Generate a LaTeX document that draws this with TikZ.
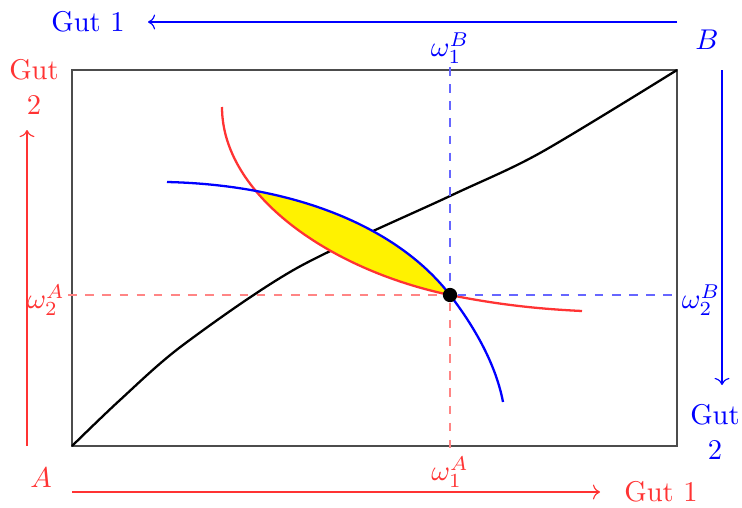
\documentclass[tikz,border=0pt]{standalone}
\usepackage{amsmath,amssymb}
\usepackage{xcolor}
\usepackage{tikz}
\usetikzlibrary{arrows.meta,calc,positioning}

\colorlet{rotA}{red!80}
\colorlet{blauB}{blue}

\begin{document}
\begin{tikzpicture}[x=0.35pt,y=-0.35pt,
  lbl/.style={text=#1,inner sep=1pt},
  lbl/.default=black,
  gut/.style={lbl=#1,align=center},
  ax/.style={->,draw=#1},
  dsh/.style={dashed,draw=#1!60},
  kurve/.style={thick,draw=#1}]
  \useasboundingbox (0,0) rectangle (742,507);
  % Edgeworth-Box
  \coordinate (A) at (72,446);
  \coordinate (B) at (677,70);
  \draw[black!70] (A) rectangle (B);
  % Kontraktkurve
  \draw[thick] plot[smooth] coordinates {(A) (120,400) (183,345) (297,268) (450,196)
    (540,153) (B)};
  % Tauschlinse
  \begin{scope}
    \clip (167,182) .. controls (300,185) and (400,230) .. (450,295)
      .. controls (470,321) and (495,360) .. (503,402) -- (503,446) -- (167,446) -- cycle;
    \fill[yellow] (222,107) .. controls (222,195) and (330,270) .. (450,295)
      .. controls (500,305) and (540,309) .. (582,311) -- (582,70) -- (222,70) -- cycle;
  \end{scope}
  % Indifferenzkurven
  \draw[kurve=rotA] (222,107) .. controls (222,195) and (330,270) .. (450,295)
    .. controls (500,305) and (540,309) .. (582,311);
  \draw[kurve=blauB] (167,182) .. controls (300,185) and (400,230) .. (450,295)
    .. controls (470,321) and (495,360) .. (503,402);
  % Anfangsausstattung
  \node[lbl=rotA] (w2A) at (46,300) {$\omega_2^A$};
  \node[lbl=blauB] (w2B) at (701,300) {$\omega_2^B$};
  \node[lbl=blauB] (w1B) at (450,48) {$\omega_1^B$};
  \node[lbl=rotA] (w1A) at (450,472) {$\omega_1^A$};
  \node[circle,fill=black,inner sep=0pt,minimum size=5pt] (eq) at (450,295) {};
  \draw[dsh=rotA] (w2A.east |- eq) -- (eq);
  \draw[dsh=blauB] (eq) -- (w2B.west |- eq);
  \draw[dsh=blauB] (w1B.south) -- (eq);
  \draw[dsh=rotA] (eq) -- (w1A.north);
  % Achsen
  \node[lbl=rotA] (nA) at (41,478) {$A$};
  \node[lbl=blauB] (nB) at (707,40) {$B$};
  \node[gut=rotA] (g1A) at (661,492) {Gut 1};
  \node[gut=rotA] (g2A) at (34,87) {Gut\\2};
  \node[gut=blauB] (g1B) at (88,22) {Gut 1};
  \node[gut=blauB] (g2B) at (715,432) {Gut\\2};
  \coordinate (a1) at (72,492);
  \coordinate (a2) at (27,446);
  \coordinate (b1) at (677,22);
  \coordinate (b2) at (722,70);
  \draw[ax=rotA] (a1) -- (600,492);
  \draw[ax=rotA] (a2) -- (27,130);
  \draw[ax=blauB] (b1) -- (148,22);
  \draw[ax=blauB] (b2) -- (722,385);
\end{tikzpicture}
\end{document}
